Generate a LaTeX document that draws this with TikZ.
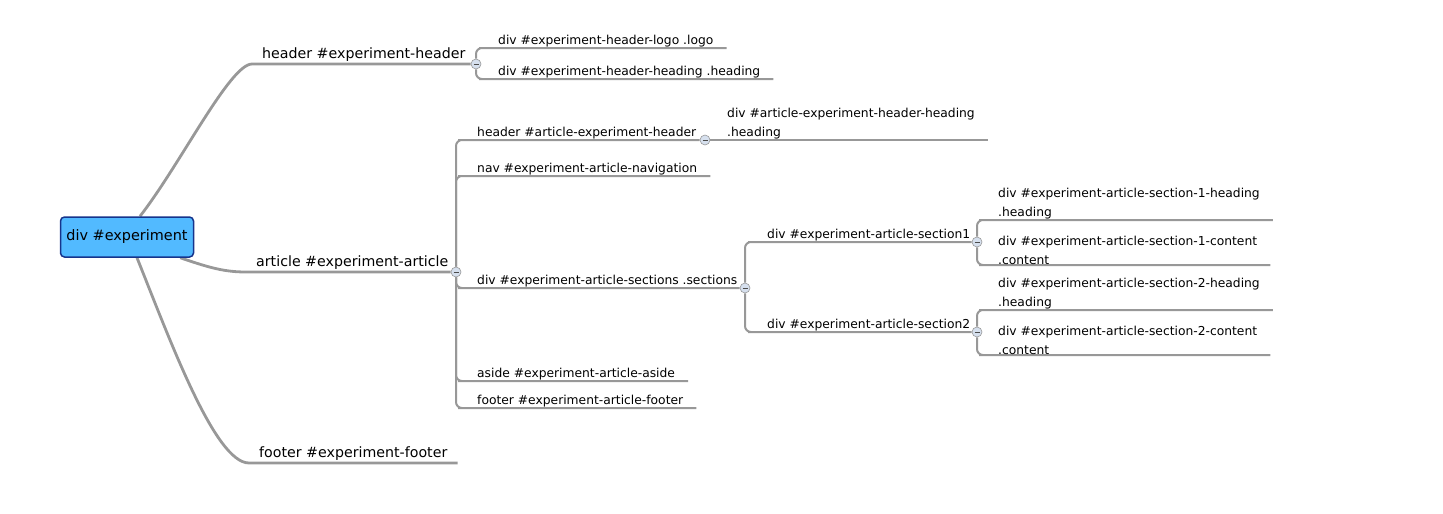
\documentclass[tikz,border=0pt]{standalone}
\usepackage{fontspec}
\setmainfont{DejaVu Sans}
\usetikzlibrary{positioning}
\pgfdeclarelayer{bg}
\pgfsetlayers{bg,main}
\definecolor{rootblue}{RGB}{82,186,255}
\definecolor{rootedge}{RGB}{22,52,140}
\definecolor{branchgray}{RGB}{152,152,152}
\definecolor{foldfill}{RGB}{214,224,238}

\begin{document}
\begin{tikzpicture}[x=1pt, y=-1pt,
	root/.style={draw=rootedge, fill=rootblue, line width=1.5pt, rounded corners=4pt, minimum width=133pt, minimum height=40pt, inner sep=0pt, font=\fontsize{14.4}{17}\selectfont},
	topic/.style={anchor=south west, inner xsep=10pt, inner ysep=2pt, font=\fontsize{14.2}{17}\selectfont},
	sub/.style={anchor=south west, inner xsep=13pt, inner ysep=0.5pt, align=left, font=\fontsize{12.3}{19}\selectfont},
	fold/.style={circle, draw=branchgray, fill=foldfill, line width=0.6pt, minimum size=10pt, inner sep=0pt,
		path picture={\draw[black!70, line width=0.8pt] ([xshift=-2.5pt]path picture bounding box.center) -- ([xshift=2.5pt]path picture bounding box.center);}},
	trunk/.style={draw=branchgray, line width=2.8pt},
	twig/.style={draw=branchgray, line width=2pt, rounded corners=6pt}]
	
	\useasboundingbox (0,0) rectangle (1443,514);
	
	\node[root] (1) at (127,237) {div \#experiment};
	
	\node[topic] (2) at (252,64) {header \#experiment-header};
	\node[topic] (3) at (246,272) {article \#experiment-article};
	\node[topic] (4) at (249,463) {footer \#experiment-footer};
	
	\node[sub] (5) at (485,48) {div \#experiment-header-logo .logo};
	\node[sub] (6) at (485,79) {div \#experiment-header-heading .heading};
	
	\node[sub] (7) at (464,140) {header \#article-experiment-header};
	\node[sub] (8) at (464,176) {nav \#experiment-article-navigation};
	\node[sub] (9) at (464,288) {div \#experiment-article-sections .sections};
	\node[sub] (10) at (464,381) {aside \#experiment-article-aside};
	\node[sub] (11) at (464,408) {footer \#experiment-article-footer};
	
	\node[sub] (12) at (714,140) {div \#article-experiment-header-heading\\.heading};
	
	\node[sub] (13) at (754,242) {div \#experiment-article-section1};
	\node[sub] (14) at (754,332) {div \#experiment-article-section2};
	
	\node[sub] (15) at (985,220) {div \#experiment-article-section-1-heading\\.heading};
	\node[sub] (16) at (985,265) {div \#experiment-article-section-1-content\\.content};
	\node[sub] (17) at (985,310) {div \#experiment-article-section-2-heading\\.heading};
	\node[sub] (18) at (985,355) {div \#experiment-article-section-2-content\\.content};
	
	\node[fold] (f2) at (476,64) {};
	\node[fold] (f3) at (456,272) {};
	\node[fold] (f7) at (705,140) {};
	\node[fold] (f9) at (745,288) {};
	\node[fold] (f13) at (977,242) {};
	\node[fold] (f14) at (977,332) {};
	
	\begin{pgfonlayer}{bg}
		\draw[trunk] ([xshift=13pt]1.north) .. controls (180,165) and (230,64) .. (2.south west) -- (f2);
		\draw[trunk] ([xshift=-14pt]1.south east) .. controls (210,268) and (225,272) .. (3.south west) -- (f3);
		\draw[trunk] ([xshift=10pt]1.south) .. controls (170,340) and (215,463) .. (4.south west) -- (4.south east);
		
		\draw[twig] (f2) |- (5.south west) -- (5.south east);
		\draw[twig] (f2) |- (6.south west) -- (6.south east);
		
		\draw[twig] (f3) |- (7.south west) -- (f7);
		\draw[twig] (f3) |- (8.south west) -- (8.south east);
		\draw[twig] (f3) |- (9.south west) -- (f9);
		\draw[twig] (f3) |- (10.south west) -- (10.south east);
		\draw[twig] (f3) |- (11.south west) -- (11.south east);
		
		\draw[twig] (f7) -- (12.south west) -- (12.south east);
		
		\draw[twig] (f9) |- (13.south west) -- (f13);
		\draw[twig] (f9) |- (14.south west) -- (f14);
		
		\draw[twig] (f13) |- (15.south west) -- (15.south east);
		\draw[twig] (f13) |- (16.south west) -- (16.south east);
		\draw[twig] (f14) |- (17.south west) -- (17.south east);
		\draw[twig] (f14) |- (18.south west) -- (18.south east);
	\end{pgfonlayer}
	
\end{tikzpicture}
\end{document}
